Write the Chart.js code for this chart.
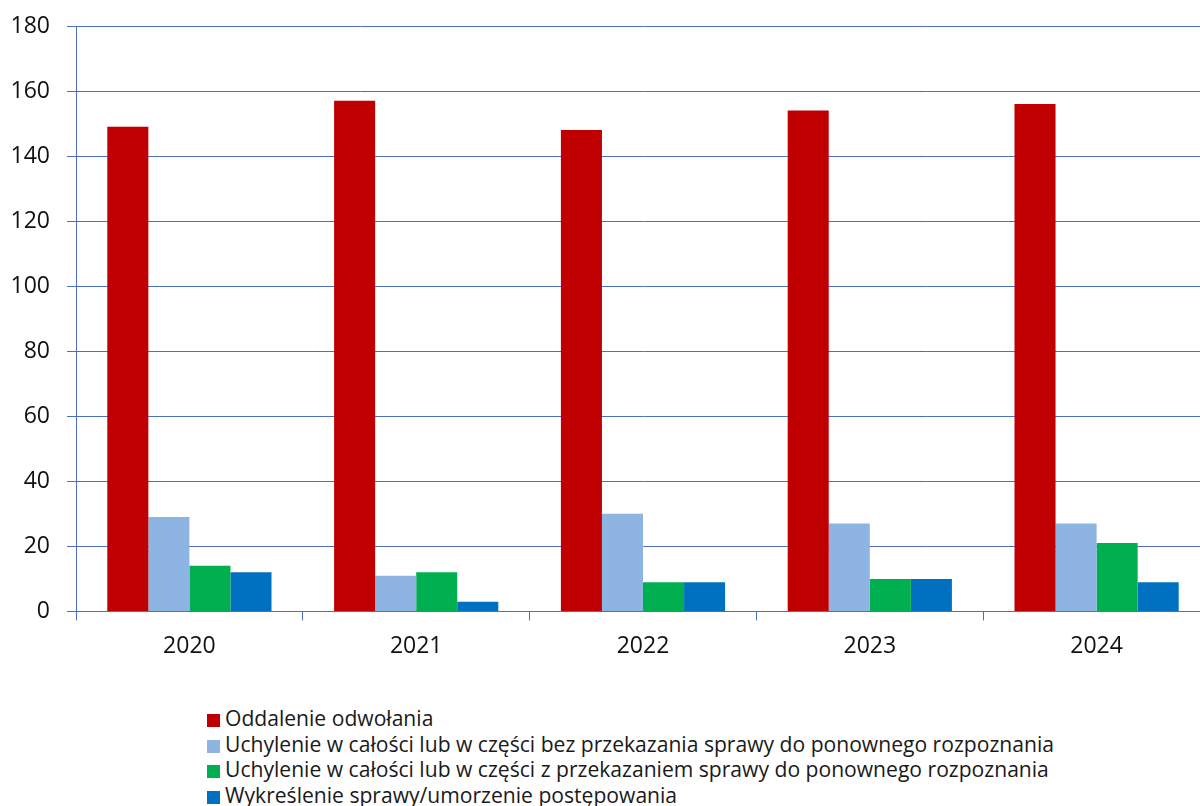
<!DOCTYPE html>
<html>
<head>
<meta charset="utf-8">
<script src="https://cdn.jsdelivr.net/npm/chart.js@4"></script>
<style>
  html, body { margin: 0; padding: 0; background: #fff; overflow: hidden; }
  #wrap { position: absolute; left: 0; top: 0; width: 1210px; height: 680px; }
  #legend { position: absolute; left: 207px; top: 705px; font-family: "Open Sans", sans-serif; font-size: 21.1px; color: #1a1a1a; }
  #legend div { height: 25.5px; line-height: 25.5px; white-space: nowrap; }
  #legend span.box { display: inline-block; width: 13px; height: 13px; margin-right: 5px; vertical-align: -1px; }
</style>
</head>
<body>
<div id="wrap"><canvas id="chart" width="1210" height="680"></canvas></div>
<div id="legend"></div>
<script>
// categories and series
const years = ['2020', '2021', '2022', '2023', '2024'];
const oddalenie = [149, 157, 148, 154, 156];
const uchylenieBez = [29, 11, 30, 27, 27];
const uchylenieZ = [14, 12, 9, 10, 21];
const wykreslenie = [12, 3, 9, 10, 9];

const seriesNames = [
    'Oddalenie odwołania',
    'Uchylenie w całości lub w części bez przekazania sprawy do ponownego rozpoznania',
    'Uchylenie w całości lub w części z przekazaniem sprawy do ponownego rozpoznania',
    'Wykreślenie sprawy/umorzenie postępowania'
];
const seriesColors = ['#C00000', '#8EB4E3', '#00B050', '#0070C0'];
const seriesValues = [oddalenie, uchylenieBez, uchylenieZ, wykreslenie];

const gridBlue = '#4A6FC4';
const font = { family: '"Open Sans", sans-serif', size: 23 };

const ctx = document.getElementById('chart').getContext('2d');
const chart = new Chart(ctx, {
    type: 'bar',
    data: {
        labels: years,
        datasets: seriesNames.map((name, i) => ({
            label: name,
            data: seriesValues[i],
            backgroundColor: seriesColors[i],
            borderWidth: 0,
            categoryPercentage: 0.724,
            barPercentage: 1.0
        }))
    },
    options: {
        responsive: false,
        animation: false,
        devicePixelRatio: 1,
        layout: { padding: { top: 26, left: 10, right: 0, bottom: 8 } },
        plugins: {
            legend: { display: false },
            tooltip: { enabled: false }
        },
        scales: {
            x: {
                grid: {
                    offset: true,
                    drawOnChartArea: false,
                    drawTicks: true,
                    tickLength: 9,
                    color: gridBlue
                },
                border: { color: gridBlue },
                ticks: { color: '#111', font: font, padding: 12 }
            },
            y: {
                min: 0,
                max: 180,
                ticks: { stepSize: 20, color: '#111', font: font, padding: 17 },
                grid: { color: gridBlue, tickLength: 9 },
                border: { color: gridBlue },
                afterFit: (scale) => {
                    scale.width = 66;
                    scale.paddingTop = 0;
                    scale.paddingBottom = 0;
                }
            }
        }
    }
});

// legend as a vertical list below the chart
const legend = document.getElementById('legend');
chart.data.datasets.forEach(ds => {
    const row = document.createElement('div');
    const box = document.createElement('span');
    box.className = 'box';
    box.style.background = ds.backgroundColor;
    row.appendChild(box);
    row.appendChild(document.createTextNode(ds.label));
    legend.appendChild(row);
});
</script>
</body>
</html>
